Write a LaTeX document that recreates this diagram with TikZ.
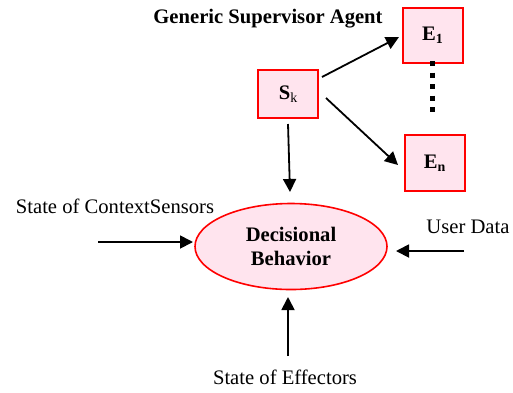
\documentclass[tikz,border=0pt]{standalone}
\usepackage{fontspec}
\setmainfont{Liberation Serif}
\usetikzlibrary{arrows.meta,shapes.geometric}
\definecolor{boxpink}{HTML}{FFE4EE}
\definecolor{boxred}{HTML}{FF0000}
\tikzset{
  agentbox/.style={draw=boxred, line width=2bp, fill=boxpink, minimum width=60bp, minimum height=52bp, inner sep=0pt, font=\fontsize{20.7}{24}\selectfont\bfseries},
  conn/.style={line width=1.8bp, -{Triangle[length=13bp,width=13bp]}},
  lbl/.style={inner sep=0pt, anchor=base},
}
\newcommand{\sbk}[1]{\raisebox{-0.3ex}{\fontsize{14}{16}\selectfont #1}}
\begin{document}
\begin{tikzpicture}[x=1bp,y=-1bp,font=\fontsize{20.7}{24}\selectfont]
\useasboundingbox (0,0) rectangle (513,392);
\node[lbl, font=\fontsize{20.7}{24}\selectfont\bfseries] (title) at (268,23) {Generic Supervisor Agent};
\node[agentbox, minimum height=48bp] (sk) at (288,94) {S\sbk{\mdseries k}};
\node[agentbox, minimum height=55bp] (e1) at (432.5,35) {E\sbk{1}};
\node[agentbox, minimum height=56bp] (en) at (434.5,163) {E\sbk{n}};
\node[ellipse, draw=boxred, line width=1.6bp, fill=boxpink, minimum width=192bp, minimum height=86bp, inner sep=0pt, align=center, font=\fontsize{20.7}{24}\selectfont\bfseries] (db) at (291,246.5) {Decisional\\[-0.5bp]Behavior};
\coordinate (dtop) at (432,61);
\coordinate (dbot) at (432,113);
\draw[line width=5bp, dash pattern=on 5bp off 6.5bp] (dtop) -- (dbot);
\draw[conn] (322,77) -- (399,37);
\draw[conn] (326,98) -- (398,165);
\draw[conn] (288,124) -- (290,192);
\node[lbl] (ctx) at (115,213) {State of ContextSensors};
\coordinate (ctxs) at (98,242);
\draw[conn] (ctxs) -- (193,242);
\node[lbl] (user) at (468,233) {User Data};
\coordinate (users) at (464,251);
\draw[conn] (users) -- (396,251);
\node[lbl] (eff) at (285,384) {State of Effectors};
\coordinate (effs) at (288,356);
\draw[conn] (effs) -- (288,297);
\end{tikzpicture}
\end{document}
